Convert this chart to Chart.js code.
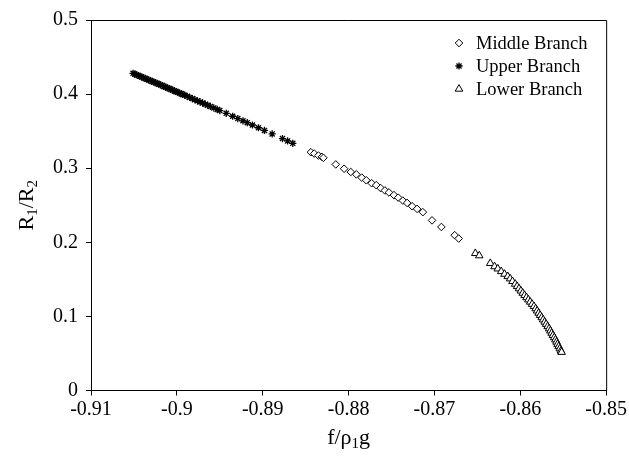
<!DOCTYPE html>
<html>
<head>
<meta charset="utf-8">
<script src="https://cdn.jsdelivr.net/npm/chart.js@4"></script>
<style>
  html, body { margin: 0; padding: 0; background: #fff; }
</style>
</head>
<body>
<canvas id="myChart" width="629" height="460"></canvas>
<script>
// Upper branch (stars)
const upperX = [-0.9051, -0.9049, -0.9047, -0.9045, -0.9043, -0.9041, -0.9039, -0.9037, -0.9035, -0.9033,
  -0.9031, -0.9029, -0.9027, -0.9025, -0.9023, -0.9021, -0.9019, -0.9017, -0.9015, -0.9013,
  -0.9011, -0.9009, -0.9007, -0.9005, -0.9003, -0.9001, -0.8999, -0.8997, -0.8995, -0.8993,
  -0.8991, -0.8988, -0.8985, -0.8982, -0.8979, -0.8976, -0.8973, -0.8970, -0.8967, -0.8964,
  -0.8961, -0.8957, -0.8953, -0.8950, -0.89425, -0.8935, -0.8929, -0.8923, -0.8918, -0.8912,
  -0.8905, -0.8898, -0.8889, -0.8877, -0.8871, -0.8865];
const upperY = [0.4280, 0.4270, 0.4261, 0.4251, 0.4241, 0.4231, 0.4222, 0.4212, 0.4202, 0.4193,
  0.4183, 0.4173, 0.4163, 0.4154, 0.4144, 0.4134, 0.4125, 0.4115, 0.4104, 0.4094,
  0.4084, 0.4074, 0.4064, 0.4054, 0.4044, 0.4035, 0.4025, 0.4015, 0.4005, 0.3995,
  0.3985, 0.3970, 0.3955, 0.3940, 0.3925, 0.3909, 0.3894, 0.3879, 0.3864, 0.3849,
  0.3834, 0.3814, 0.3793, 0.3778, 0.3740, 0.3701, 0.3670, 0.3640, 0.3614, 0.3583,
  0.3546, 0.3510, 0.3463, 0.3400, 0.3368, 0.3336];

// Middle branch (diamonds)
const middleX = [-0.88439, -0.88400, -0.88351, -0.88311, -0.88293, -0.88149, -0.88052, -0.87975, -0.87910,
  -0.87847, -0.87794, -0.87731, -0.87678, -0.87626, -0.87577, -0.87530, -0.87472, -0.87422,
  -0.87368, -0.87318, -0.87260, -0.87202, -0.87135, -0.87028, -0.86919, -0.86764, -0.86718];
const middleY = [0.3216, 0.3197, 0.3171, 0.3153, 0.3140, 0.3051, 0.2993, 0.2949, 0.2917,
  0.2873, 0.2837, 0.2797, 0.2771, 0.2731, 0.2700, 0.2673, 0.2637, 0.2603,
  0.2563, 0.2531, 0.2487, 0.2451, 0.2407, 0.2296, 0.2207, 0.2096, 0.2051];

// Lower branch (triangles)
const lowerX = [-0.86524, -0.86478, -0.86350, -0.86300, -0.86262, -0.86222, -0.86184, -0.86146, -0.86118,
  -0.86091, -0.86060, -0.86037, -0.86015, -0.85993, -0.85972, -0.85950, -0.85928, -0.85906,
  -0.85885, -0.85863, -0.85841, -0.85821, -0.85804, -0.85786, -0.85769, -0.85751, -0.85734,
  -0.85716, -0.85699, -0.85681, -0.85665, -0.85650, -0.85635, -0.85620, -0.85605, -0.85591,
  -0.85578, -0.85566, -0.85553, -0.85540, -0.85527, -0.85519];
const lowerY = [0.1851, 0.1820, 0.1717, 0.1673, 0.1643, 0.1607, 0.1571, 0.1540, 0.1509,
  0.1473, 0.1437, 0.1405, 0.1375, 0.1345, 0.1315, 0.1285, 0.1255, 0.1225,
  0.1195, 0.1165, 0.1135, 0.1105, 0.1075, 0.1045, 0.1015, 0.0985, 0.0955,
  0.0925, 0.0895, 0.0865, 0.0835, 0.0805, 0.0775, 0.0745, 0.0715, 0.0685,
  0.0655, 0.0625, 0.0595, 0.0565, 0.0535, 0.0517];

const xTicks = [-0.91, -0.90, -0.89, -0.88, -0.87, -0.86, -0.85];
const xTickLabels = ['-0.91', '-0.9', '-0.89', '-0.88', '-0.87', '-0.86', '-0.85'];
const yTicks = [0, 0.1, 0.2, 0.3, 0.4, 0.5];
const yTickLabels = ['0', '0.1', '0.2', '0.3', '0.4', '0.5'];

const FONT = '"Liberation Serif", "Times New Roman", serif';

function toPoints(xs, ys) {
  return xs.map((x, i) => ({ x: x, y: ys[i] }));
}

// frame, axis titles with subscripts, and the boxed legend
const extras = {
  id: 'extras',
  afterDraw(chart) {
    const ctx = chart.ctx;
    const a = chart.chartArea;
    ctx.save();
    ctx.strokeStyle = '#000';
    ctx.lineWidth = 1;
    ctx.beginPath();
    ctx.moveTo(a.left, a.top + 0.5);
    ctx.lineTo(a.right + 0.5, a.top + 0.5);
    ctx.lineTo(a.right + 0.5, a.bottom);
    ctx.stroke();

    // x title: f/ρ1g
    ctx.fillStyle = '#000';
    ctx.textBaseline = 'alphabetic';
    const big = '22px ' + FONT, small = '15px ' + FONT;
    let parts = [['f/ρ', big, 0], ['1', small, 4], ['g', big, 0]];
    let w = 0;
    parts.forEach(p => { ctx.font = p[1]; w += ctx.measureText(p[0]).width; });
    let cx = (a.left + a.right) / 2 - w / 2;
    parts.forEach(p => {
      ctx.font = p[1];
      ctx.fillText(p[0], cx, 444 + p[2]);
      cx += ctx.measureText(p[0]).width;
    });

    // y title: R1/R2
    ctx.save();
    ctx.translate(33, (a.top + a.bottom) / 2);
    ctx.rotate(-Math.PI / 2);
    parts = [['R', big, 0], ['1', small, 4], ['/R', big, 0], ['2', small, 4]];
    w = 0;
    parts.forEach(p => { ctx.font = p[1]; w += ctx.measureText(p[0]).width; });
    cx = -w / 2;
    parts.forEach(p => {
      ctx.font = p[1];
      ctx.fillText(p[0], cx, p[2]);
      cx += ctx.measureText(p[0]).width;
    });
    ctx.restore();

    // legend
    ctx.font = '18.5px ' + FONT;
    ctx.textBaseline = 'middle';
    chart.data.datasets.forEach((ds, i) => {
      const y = 43 + i * 23;
      ctx.fillStyle = ds.backgroundColor;
      ctx.strokeStyle = '#000';
      ctx.lineWidth = ds.borderWidth;
      Chart.helpers.drawPoint(ctx, {
        pointStyle: ds.pointStyle, radius: ds.pointRadius, borderWidth: ds.borderWidth, rotation: 0
      }, 459, y);
      ctx.fillStyle = '#000';
      ctx.fillText(ds.label, 476, y + 1);
    });
    ctx.restore();
  }
};

const ctx = document.getElementById('myChart').getContext('2d');
const myChartInstance = new Chart(ctx, {
  type: 'scatter',
  data: {
    datasets: [
      {
        label: 'Middle Branch',
        data: toPoints(middleX, middleY),
        pointStyle: 'rectRot',
        pointRadius: 3.8,
        backgroundColor: '#fff',
        borderColor: '#000',
        borderWidth: 1
      },
      {
        label: 'Upper Branch',
        data: toPoints(upperX, upperY),
        pointStyle: 'star',
        pointRadius: 3.6,
        backgroundColor: '#000',
        borderColor: '#000',
        borderWidth: 1.3
      },
      {
        label: 'Lower Branch',
        data: toPoints(lowerX, lowerY),
        pointStyle: 'triangle',
        pointRadius: 4.4,
        backgroundColor: '#fff',
        borderColor: '#000',
        borderWidth: 1
      }
    ]
  },
  options: {
    responsive: false,
    animation: false,
    devicePixelRatio: 1,
    layout: { padding: { left: 0, right: 21, top: 16, bottom: 0 } },
    plugins: {
      legend: { display: false },
      tooltip: { enabled: false }
    },
    scales: {
      x: {
        type: 'linear',
        min: -0.91,
        max: -0.85,
        afterBuildTicks: s => { s.ticks = xTicks.map(v => ({ value: v })); },
        afterFit: s => { s.height = 69.5; },
        grid: { drawOnChartArea: false, drawTicks: true, tickLength: 5, color: '#000' },
        border: { display: true, color: '#000', width: 1 },
        ticks: {
          color: '#000',
          padding: 2,
          maxRotation: 0,
          font: { family: FONT, size: 20 },
          callback: (v, i) => xTickLabels[i]
        }
      },
      y: {
        type: 'linear',
        min: 0,
        max: 0.5,
        afterBuildTicks: s => { s.ticks = yTicks.map(v => ({ value: v })); },
        afterFit: s => { s.width = 91; },
        grid: { drawOnChartArea: false, drawTicks: true, tickLength: 5, color: '#000' },
        border: { display: true, color: '#000', width: 1 },
        ticks: {
          color: '#000',
          padding: 8,
          font: { family: FONT, size: 20 },
          callback: (v, i) => yTickLabels[i]
        }
      }
    }
  },
  plugins: [extras]
});
</script>
</body>
</html>
